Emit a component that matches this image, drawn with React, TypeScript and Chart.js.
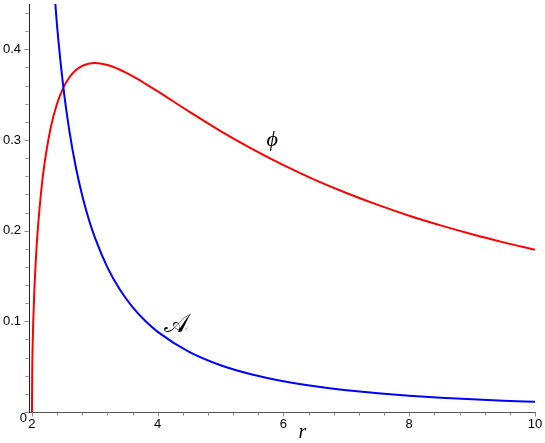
import React, { useEffect, useRef } from "react";
import { Chart, registerables } from "chart.js";

Chart.register(...registerables);

// phi(r) curve (red)
const rPhi = [2, 2.005, 2.01, 2.02, 2.04, 2.06, 2.08, 2.1, 2.15, 2.2, 2.3, 2.4, 2.5, 2.6, 2.7, 2.8, 2.9, 3.0, 3.2, 3.4, 3.6, 3.8, 4.0, 4.5, 5, 5.5, 6, 6.5, 7, 7.5, 8, 8.5, 9, 9.5, 10];
const phiValues = [0, 0.0498, 0.0702, 0.0985, 0.1373, 0.1657, 0.1886, 0.2078, 0.2457, 0.2741, 0.3141, 0.3402, 0.3578, 0.3695, 0.3772, 0.3818, 0.3842, 0.3849, 0.3827, 0.3775, 0.3704, 0.3622, 0.3536, 0.3313, 0.3098, 0.2901, 0.2722, 0.256, 0.2415, 0.2284, 0.2165, 0.2058, 0.196, 0.1871, 0.1789];

// A(r) curve (blue)
const rA = [2.3, 2.35, 2.4, 2.5, 2.6, 2.7, 2.8, 2.9, 3.0, 3.2, 3.4, 3.6, 3.8, 4.0, 4.5, 5, 5.5, 6, 6.5, 7, 7.5, 8, 8.5, 9, 9.5, 10];
const aValues = [0.5234, 0.4692, 0.4253, 0.3578, 0.3079, 0.2694, 0.2386, 0.2134, 0.1925, 0.1595, 0.1348, 0.1157, 0.1006, 0.0884, 0.0663, 0.0516, 0.0414, 0.034, 0.0284, 0.0241, 0.0208, 0.018, 0.0158, 0.014, 0.0125, 0.0112];

// axes
const xMajorTicks = [2, 4, 6, 8, 10];
const xTickLabels = ["2", "4", "6", "8", "10"];
const xMinorTicks = [2.4, 2.8, 3.2, 3.6, 4.4, 4.8, 5.2, 5.6, 6.4, 6.8, 7.2, 7.6, 8.4, 8.8, 9.2, 9.6];
const yMajorTicks = [0, 0.1, 0.2, 0.3, 0.4];
const yTickLabels = ["0", "0.1", "0.2", "0.3", "0.4"];
const yMinorTicks = [0.02, 0.04, 0.06, 0.08, 0.12, 0.14, 0.16, 0.18, 0.22, 0.24, 0.26, 0.28, 0.32, 0.34, 0.36, 0.38, 0.42, 0.44];

// curve labels (data coordinates)
const curveLabels = [
  { text: "\u03D5", x: 5.82, y: 0.3, font: 'italic 22px "Liberation Serif", "DejaVu Serif", serif' },
  { text: "\uD835\uDC9C", x: 4.3, y: 0.096, font: '26px "DejaVu Serif", "DejaVu Sans", serif' },
];
const xAxisTitle = "r";

const TICK_FONT = '13px "Liberation Sans", Arial, sans-serif';

const decorPlugin = {
  id: "decor",
  afterDraw(chart: any) {
    const ctx = chart.ctx;
    const xs = chart.scales.x;
    const ys = chart.scales.y;
    const area = chart.chartArea;
    ctx.save();
    ctx.strokeStyle = "#8a8a8a";
    ctx.lineWidth = 1;
    const bottom = Math.round(area.bottom) + 0.5;
    const left = Math.round(area.left) - 0.5;
    ctx.beginPath();
    xMajorTicks.forEach((v) => {
      const px = Math.round(xs.getPixelForValue(v)) + 0.5;
      ctx.moveTo(px, bottom);
      ctx.lineTo(px, bottom + 4);
    });
    xMinorTicks.forEach((v) => {
      const px = Math.round(xs.getPixelForValue(v)) + 0.5;
      ctx.moveTo(px, bottom);
      ctx.lineTo(px, bottom + 3);
    });
    yMajorTicks.forEach((v) => {
      const py = Math.round(ys.getPixelForValue(v)) + 0.5;
      ctx.moveTo(left, py);
      ctx.lineTo(left - 4, py);
    });
    yMinorTicks.forEach((v) => {
      const py = Math.round(ys.getPixelForValue(v)) + 0.5;
      ctx.moveTo(left, py);
      ctx.lineTo(left - 3, py);
    });
    ctx.stroke();

    // "0" label at the corner
    ctx.fillStyle = "#000";
    ctx.font = TICK_FONT;
    ctx.textAlign = "right";
    ctx.textBaseline = "middle";
    ctx.fillText(yTickLabels[0], area.left - 2, ys.getPixelForValue(0) + 6);

    // curve labels
    ctx.textAlign = "center";
    curveLabels.forEach((l) => {
      ctx.font = l.font;
      ctx.fillText(l.text, xs.getPixelForValue(l.x), ys.getPixelForValue(l.y));
    });

    // axis title
    ctx.font = 'italic 20px "Liberation Serif", "DejaVu Serif", serif';
    ctx.fillText(xAxisTitle, xs.getPixelForValue(6.3), area.bottom + 21);
    ctx.restore();
  },
};

export default function App() {
  const canvasRef = useRef<HTMLCanvasElement | null>(null);

  useEffect(() => {
    const canvas = canvasRef.current;
    if (!canvas) return;
    const chart = new Chart(canvas, {
      type: "line",
      data: {
        datasets: [
          {
            label: "A",
            data: rA.map((r, i) => ({ x: r, y: aValues[i] })),
            borderColor: "#0000ff",
            borderWidth: 2,
            pointRadius: 0,
            cubicInterpolationMode: "monotone",
            fill: false,
          },
          {
            label: "phi",
            data: rPhi.map((r, i) => ({ x: r, y: phiValues[i] })),
            borderColor: "#ff0000",
            borderWidth: 2,
            pointRadius: 0,
            cubicInterpolationMode: "monotone",
            fill: false,
          },
        ],
      },
      options: {
        animation: false,
        responsive: false,
        maintainAspectRatio: false,
        layout: { padding: { top: 4, right: 10, left: 0, bottom: 0 } },
        plugins: { legend: { display: false }, tooltip: { enabled: false } },
        scales: {
          x: {
            type: "linear",
            min: 1.953,
            max: 10,
            grid: { display: false, drawTicks: false },
            border: { display: true, color: "#555555", width: 1 },
            afterBuildTicks: (scale: any) => {
              scale.ticks = xMajorTicks.map((v) => ({ value: v }));
            },
            afterFit: (scale: any) => {
              scale.height = 31;
              scale.paddingLeft = 0;
              scale.paddingRight = 0;
              scale.paddingTop = 0;
              scale.paddingBottom = 0;
            },
            ticks: {
              autoSkip: false,
              maxRotation: 0,
              padding: 5,
              color: "#000",
              font: { family: '"Liberation Sans", Arial, sans-serif', size: 13 },
              callback: (v: any) => {
                const i = xMajorTicks.indexOf(Number(v));
                return i >= 0 ? xTickLabels[i] : "";
              },
            },
          },
          y: {
            type: "linear",
            min: 0,
            max: 0.45,
            grid: { display: false, drawTicks: false },
            border: { display: true, color: "#222222", width: 1 },
            afterBuildTicks: (scale: any) => {
              scale.ticks = yMajorTicks.map((v) => ({ value: v }));
            },
            afterFit: (scale: any) => {
              scale.width = 29;
              scale.paddingLeft = 0;
              scale.paddingRight = 0;
              scale.paddingTop = 0;
              scale.paddingBottom = 0;
            },
            ticks: {
              autoSkip: false,
              padding: 8,
              color: "#000",
              font: { family: '"Liberation Sans", Arial, sans-serif', size: 13 },
              callback: (v: any) => {
                const i = yMajorTicks.findIndex((t) => Math.abs(t - Number(v)) < 1e-9);
                if (i <= 0) return "";
                return yTickLabels[i];
              },
            },
          },
        },
      },
      plugins: [decorPlugin],
    } as any);
    return () => chart.destroy();
  }, []);

  return (
    <div style={{ position: "absolute", left: 0, top: 0, width: 545, height: 443, background: "#fff" }}>
      <canvas ref={canvasRef} width={545} height={443} style={{ width: 545, height: 443, display: "block" }} />
    </div>
  );
}
